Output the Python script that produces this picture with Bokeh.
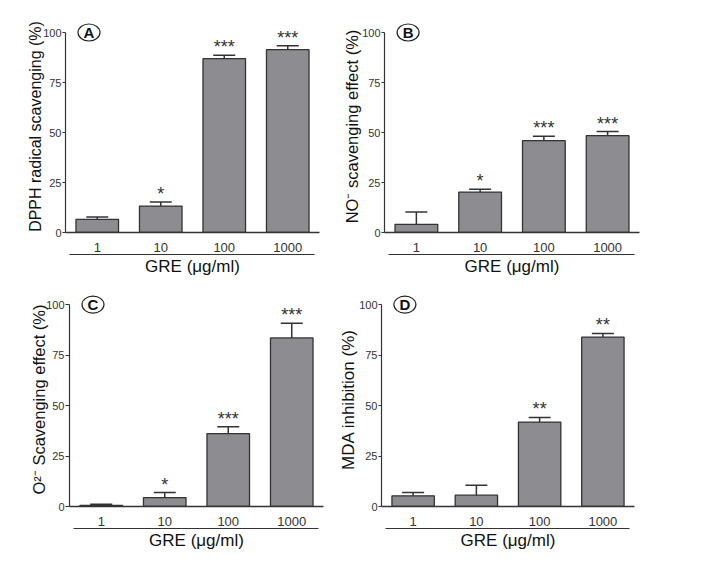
from bokeh.plotting import figure
from bokeh.models import (Range1d, LinearAxis, FixedTicker, Whisker,
                          TeeHead, ColumnDataSource)
from bokeh.layouts import column, row
from bokeh.embed import file_html
from bokeh.resources import INLINE
from bokeh.core.properties import value

# ---- data ----
doses = ["1", "10", "100", "1000"]
x_title = "GRE (μg/ml)"

dpph_mean = [6.6, 13.2, 86.9, 91.4]
dpph_err = [1.1, 2.0, 1.7, 2.0]
dpph_sig = ["", "*", "***", "***"]

no_mean = [4.1, 20.2, 45.9, 48.4]
no_err = [6.1, 1.4, 2.2, 2.1]
no_sig = ["", "*", "***", "***"]

o2_mean = [0.6, 4.4, 36.1, 83.5]
o2_err = [0.5, 2.5, 3.4, 7.3]
o2_sig = ["", "*", "***", "***"]

mda_mean = [5.3, 5.6, 41.8, 83.9]
mda_err = [1.6, 4.9, 2.3, 1.8]
mda_sig = ["", "", "**", "**"]

y_ticks = [0, 25, 50, 75, 100]

FONT = "Liberation Sans"
DARK = "#333333"
BAR = "#8d8d91"

# category slots: one unit per dose, bar centred in its slot
xpos = [i + 0.5 for i in range(len(doses))]


def panel(letter, ylabel, means, errs, sig, width, height, mbl, mbr, mbt, mbb,
          ylab_size, ylab_standoff, tick_out=3):
    p = figure(x_range=Range1d(0, len(doses)), y_range=Range1d(0, 106),
               width=width, height=height, output_backend="svg",
               toolbar_location=None, min_border_left=mbl, min_border_right=mbr,
               min_border_top=mbt, min_border_bottom=mbb)
    p.outline_line_color = None
    p.grid.visible = False
    p.background_fill_color = "white"
    p.border_fill_color = "white"

    # x axis (categories)
    xa = p.xaxis[0]
    xa.ticker = FixedTicker(ticks=xpos)
    xa.major_label_overrides = {x: d for x, d in zip(xpos, doses)}
    xa.major_tick_line_color = None
    xa.minor_tick_line_color = None
    xa.axis_line_color = DARK
    xa.axis_line_width = 1.5
    xa.major_label_text_font = FONT
    xa.major_label_text_font_size = "13px"
    xa.major_label_text_color = DARK
    xa.major_label_standoff = 4

    # y axis
    ya = p.yaxis[0]
    ya.ticker = FixedTicker(ticks=y_ticks)
    ya.bounds = (0, 100)
    ya.axis_line_color = DARK
    ya.axis_line_width = 1.2
    ya.major_tick_line_color = DARK
    ya.major_tick_out = tick_out
    ya.major_tick_in = 0
    ya.minor_tick_line_color = None
    ya.major_label_text_font = FONT
    ya.major_label_text_font_size = "11px"
    ya.major_label_text_color = DARK
    ya.major_label_standoff = 1
    ya.axis_label = ylabel
    ya.axis_label_text_font = FONT
    ya.axis_label_text_font_size = ylab_size
    ya.axis_label_text_font_style = "normal"
    ya.axis_label_text_color = "#111111"
    ya.axis_label_standoff = ylab_standoff

    # underline + title axis
    ua = LinearAxis(ticker=FixedTicker(ticks=[]), bounds=(0.065, 3.92))
    ua.axis_line_color = DARK
    ua.axis_line_width = 1.2
    ua.major_tick_line_color = None
    ua.minor_tick_line_color = None
    ua.major_label_text_font_size = "0px"
    ua.major_label_standoff = 0
    ua.axis_label = x_title
    ua.axis_label_text_font = FONT
    ua.axis_label_text_font_size = "17px"
    ua.axis_label_text_font_style = "normal"
    ua.axis_label_text_color = "#111111"
    ua.axis_label_standoff = 2
    p.add_layout(ua, "below")

    upper = [m + e for m, e in zip(means, errs)]
    src = ColumnDataSource(dict(x=xpos, top=means, upper=upper, sig=sig))

    p.vbar(x="x", top="top", width=0.67, source=src, fill_color=BAR,
           line_color=DARK, line_width=1.3)
    w = Whisker(base="x", lower="top", upper="upper", source=src,
                lower_head=None,
                upper_head=TeeHead(size=22, line_color=DARK, line_width=1.5),
                line_color=DARK, line_width=1.5, level="glyph")
    p.add_layout(w)
    p.text(x="x", y="upper", text="sig", source=src, text_font=value(FONT),
           text_font_size="18px", text_align="center",
           text_baseline="alphabetic", y_offset=-8, text_color=DARK)

    # circled panel letter
    p.ellipse(x=[0.37], y=[100], width=22, height=17, width_units="screen",
              height_units="screen", fill_color="white", line_color="#222222",
              line_width=1.2)
    p.text(x=[0.37], y=[100], text=[letter], text_font=value(FONT),
           text_font_size="15px", text_font_style="bold", text_align="center",
           text_baseline="middle", text_color="#111111")
    return p


pA = panel("A", "DPPH radical scavenging (%)", dpph_mean, dpph_err, dpph_sig,
           336, 284, 65, 17, 19, 52, "16px", -4)
pB = panel("B", "NO⁻ scavenging effect (%)", no_mean, no_err, no_sig,
           345, 284, 48, 42, 20, 51, "16.5px", -2)
pC = panel("C", "O²⁻ Scavenging effect (%)", o2_mean, o2_err, o2_sig,
           334, 280, 69, 11, 8, 58, "16.5px", -5, tick_out=4)
pD = panel("D", "MDA inhibition (%)", mda_mean, mda_err, mda_sig,
           345, 280, 47, 45, 8, 58, "17px", -2)

layout = column(row(pA, pB), row(pC, pD))
open("out.html", "w").write(file_html(layout, INLINE))
